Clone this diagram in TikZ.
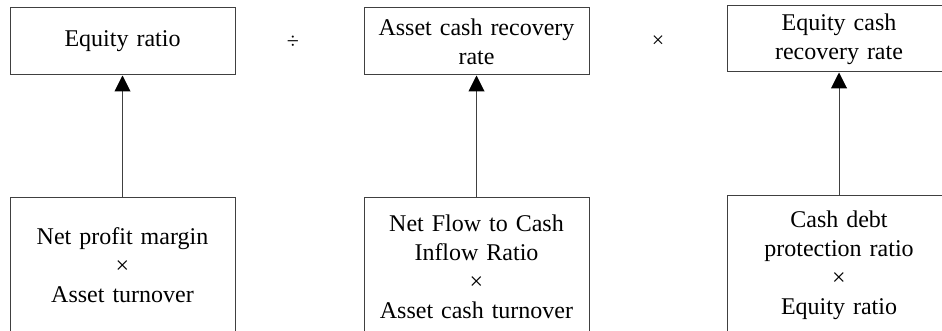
\documentclass[tikz,border=0pt]{standalone}
\usepackage{fontspec}
\setmainfont{Liberation Serif}
\usetikzlibrary{arrows.meta}
\begin{document}
\begin{tikzpicture}[x=1pt,y=-1pt,
  box/.style={draw=black!75, line width=1pt, rectangle, inner sep=0pt, align=center,
    font=\fontsize{24}{29}\selectfont, text=black},
  op/.style={inner sep=0pt, font=\fontsize{22}{26}\selectfont},
  link/.style={draw=black!75, line width=1pt, -{Triangle[width=16pt,length=16pt,color=black,fill=black]}}]
\useasboundingbox (0,0) rectangle (942,331);
\fill[white] (0,0) rectangle (942,331);
\clip (0,0) rectangle (942,331);
% top boxes
\node[box, minimum width=225pt, minimum height=67pt, text width=220pt] (t1) at (122.5,41.5) {Equity ratio};
\node[box, minimum width=225pt, minimum height=67pt, text width=220pt] (t2) at (476.5,41.5) {Asset cash recovery\\rate};
\node[box, minimum width=224pt, minimum height=66pt, text width=190pt] (t3) at (839,39) {Equity cash\\recovery rate};
% operators
\node[op] (o1) at (293,42) {÷};
\node[op] (o2) at (658,42) {×};
% bottom boxes
\node[box, anchor=north, minimum width=225pt, minimum height=136pt, text width=220pt] (b1) at (122.5,197) {Net profit margin\\×\\Asset turnover};
\node[box, anchor=north, minimum width=225pt, minimum height=138pt, text width=220pt] (b2) at (476.5,197) {Net Flow to Cash\\Inflow Ratio\\×\\Asset cash turnover};
\node[box, anchor=north, minimum width=224pt, minimum height=140pt, text width=190pt] (b3) at (839,195) {Cash debt\\protection ratio\\×\\Equity ratio};
% arrows
\draw[link] (b1.north) -- (t1.south);
\draw[link] (b2.north) -- (t2.south);
\draw[link] (b3.north) -- (t3.south);
\end{tikzpicture}
\end{document}
